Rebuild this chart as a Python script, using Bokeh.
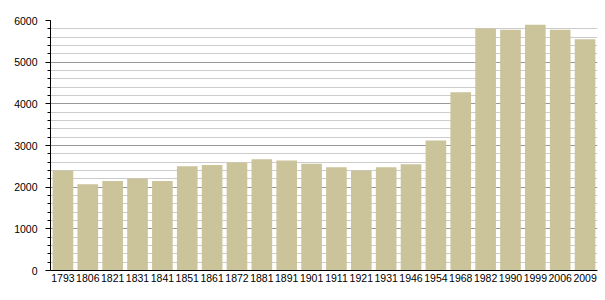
from bokeh.plotting import figure
from bokeh.models import ColumnDataSource, SingleIntervalTicker, Range1d
from bokeh.embed import file_html
from bokeh.resources import INLINE

years = ["1793", "1806", "1821", "1831", "1841", "1851", "1861", "1872", "1881", "1891", "1901",
         "1911", "1921", "1931", "1946", "1954", "1968", "1982", "1990", "1999", "2006", "2009"]
population = [2400, 2070, 2150, 2210, 2150, 2500, 2530, 2590, 2670, 2640, 2560,
              2480, 2400, 2480, 2550, 3120, 4280, 5810, 5780, 5900, 5780, 5550]

source = ColumnDataSource(data=dict(year=years, pop=population))

p = figure(x_range=years, width=605, height=300, output_backend="svg", toolbar_location=None,
           min_border_left=50, min_border_right=8, min_border_top=20, min_border_bottom=30)
p.y_range = Range1d(0, 6000)
p.x_range.range_padding = 0

p.vbar(x="year", top="pop", width=0.83, source=source, color="#cbc39a", line_color=None)

p.outline_line_color = None
p.background_fill_color = "white"
p.border_fill_color = "white"

p.xgrid.grid_line_color = None
p.yaxis.ticker = SingleIntervalTicker(interval=1000, num_minor_ticks=5)
p.ygrid.grid_line_color = "#999999"
p.ygrid.minor_grid_line_color = "#cccccc"

p.yaxis.axis_line_color = "black"
p.yaxis.major_tick_line_color = "black"
p.yaxis.minor_tick_line_color = "black"
p.yaxis.major_tick_out = 5
p.yaxis.major_tick_in = 0
p.yaxis.minor_tick_out = 3
p.yaxis.minor_tick_in = 0
p.yaxis.major_label_standoff = 8
p.yaxis.major_label_text_font = "Liberation Sans"
p.yaxis.major_label_text_font_size = "10.5px"
p.yaxis.major_label_text_color = "black"

p.xaxis.axis_line_color = "black"
p.xaxis.major_tick_line_color = None
p.xaxis.minor_tick_line_color = None
p.xaxis.major_tick_out = 0
p.xaxis.major_tick_in = 0
p.xaxis.major_label_standoff = 3
p.xaxis.major_label_text_font = "Liberation Sans"
p.xaxis.major_label_text_font_size = "10.5px"
p.xaxis.major_label_text_color = "black"

open("out.html", "w").write(file_html(p, INLINE))
